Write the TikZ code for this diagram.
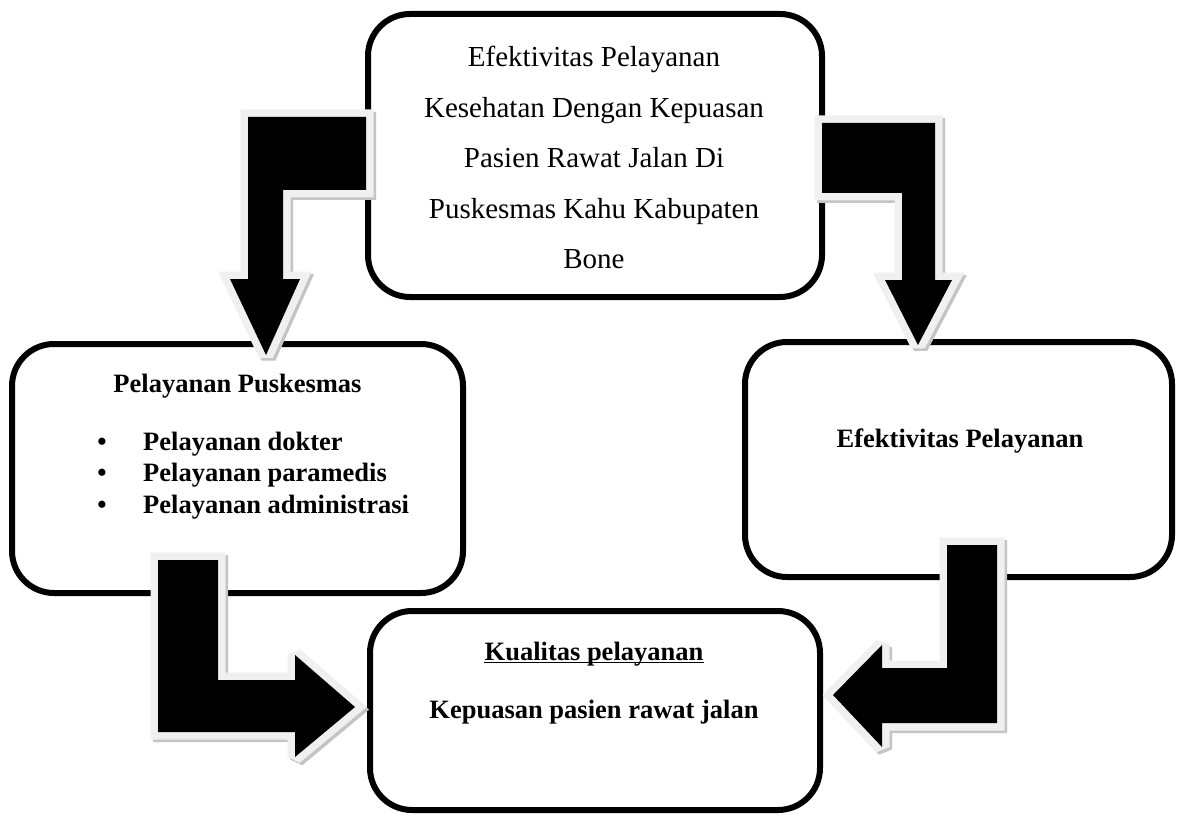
\documentclass[tikz,border=0pt]{standalone}
\usepackage{fontspec}
\setmainfont{Liberation Serif}
\definecolor{outlinegray}{HTML}{F0F0F0}
\definecolor{shadowgray}{HTML}{C4C4C4}
\begin{document}
\begin{tikzpicture}[x=1pt,y=-1pt,
  box/.style={draw, line width=6pt, rounded corners=42pt, inner sep=0pt, fill=white},
  shad/.style={draw=shadowgray, fill=shadowgray, line width=15pt, line join=miter, miter limit=2, shift={(2.5,2.5)}},
  outl/.style={draw=outlinegray, fill=outlinegray, line width=15pt, line join=miter, miter limit=2},
  blk/.style={fill=black},
  reg/.style={font=\fontsize{29}{34}\selectfont, inner sep=0pt, anchor=base},
  bld/.style={font=\fontsize{26.5}{32}\selectfont\bfseries, inner sep=0pt, anchor=base},
]
\useasboundingbox (0,0) rectangle (1177,818);
\fill[white] (0,0) rectangle (1177,818);

% boxes
\node (topbox) [box, minimum width=454pt, minimum height=283pt] at (595,155.5) {};
\node (leftbox) [box, minimum width=451pt, minimum height=249pt] at (237.5,468.5) {};
\node (rightbox) [box, minimum width=427pt, minimum height=235pt] at (958.5,459.5) {};
\node (botbox) [box, minimum width=450pt, minimum height=199pt] at (595,710.5) {};

% texts
\node (t1) [reg] at (594,67) {Efektivitas Pelayanan};
\node (t2) [reg] at (594,117.4) {Kesehatan Dengan Kepuasan};
\node (t3) [reg] at (594,167.8) {Pasien Rawat Jalan Di};
\node (t4) [reg] at (594,218.2) {Puskesmas Kahu Kabupaten};
\node (t5) [reg] at (594,268.6) {Bone};

\node (lt) [bld] at (237.5,392) {Pelayanan Puskesmas};
\node (b1) [bld] at (102,450) {\textbullet};
\node (b2) [bld] at (102,481.5) {\textbullet};
\node (b3) [bld] at (102,513) {\textbullet};
\node (l1) [bld, anchor=base west] at (143,450) {Pelayanan dokter};
\node (l2) [bld, anchor=base west] at (143,481.5) {Pelayanan paramedis};
\node (l3) [bld, anchor=base west] at (143,513) {Pelayanan administrasi};

\node (rt) [bld] at (960,447) {Efektivitas Pelayanan};

\node (k1) [bld] at (594,660) {Kualitas pelayanan};
\draw[line width=1.6pt] ([yshift=-2.5pt]k1.base west) -- ([yshift=-2.5pt]k1.base east);
\node (k2) [bld] at (594,718) {Kepuasan pasien rawat jalan};

% arrow shapes
\def\arrA{(366,117) -- (248,117) -- (248,279) -- (230,279) -- (266,355) -- (300,279) -- (283,279) -- (283,190) -- (366,190) -- cycle}
\def\arrB{(822,123) -- (935,123) -- (935,280) -- (952,280) -- (918,345) -- (885,280) -- (902,280) -- (902,193) -- (822,193) -- cycle}
\def\arrC{(158,560) -- (218,560) -- (218,680) -- (295,680) -- (295,655) -- (355,707) -- (295,757) -- (295,732) -- (158,732) -- cycle}
\def\arrD{(947,545) -- (997,545) -- (997,723) -- (882,723) -- (882,747) -- (833,695) -- (882,645) -- (882,668) -- (947,668) -- cycle}

\foreach \a in {\arrA,\arrB,\arrC,\arrD}{
  \path[shad] \a;
  \path[outl] \a;
  \path[blk] \a;
}
\end{tikzpicture}
\end{document}
